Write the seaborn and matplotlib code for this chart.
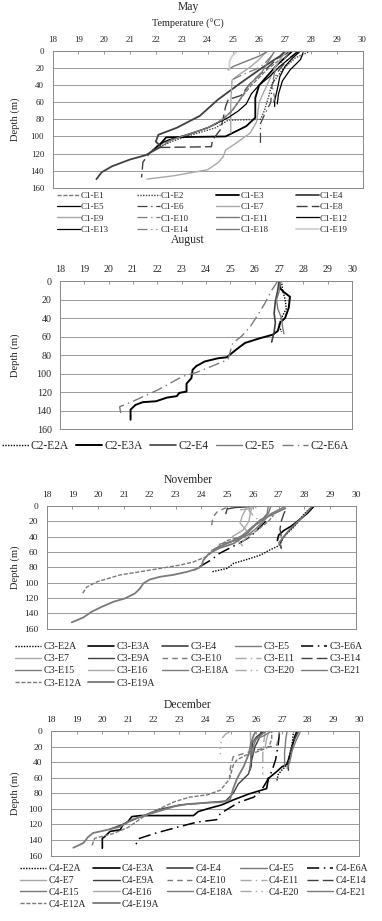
import matplotlib
matplotlib.use('Agg')
import matplotlib.pyplot as plt
import seaborn as sns

# valores: cada perfil = lista de (temperatura °C, profundidade m)
temp_ticks = list(range(18, 31))
depth_ticks = list(range(0, 161, 20))

# ---------------- May (C1) ----------------
c1_e1 = [(27.0, 0), (26.8, 10), (26.3, 22), (25.7, 40), (25.3, 55), (24.9, 72), (24.3, 86), (23.4, 97), (22.6, 104), (22.0, 112)]
c1_e2 = [(28.0, 0), (27.4, 8), (26.9, 22), (26.5, 38), (26.35, 55), (26.2, 70), (26.05, 80), (24.8, 81), (24.3, 90), (23.3, 99), (22.6, 106), (22.2, 112)]
c1_e3 = [(27.25, 1), (26.7, 16), (26.0, 40), (25.85, 55), (25.85, 78), (25.5, 88), (24.7, 100), (22.4, 101), (22.2, 108), (21.9, 116)]
c1_e4 = [(27.1, 2), (26.7, 8), (26.05, 21), (25.3, 37), (24.4, 57), (23.7, 76), (22.8, 90), (22.1, 98), (22.0, 106), (22.2, 112), (21.6, 122), (21.0, 127), (20.3, 135), (19.9, 142), (19.7, 150)]
c1_e5 = [(27.6, 0), (27.3, 8), (27.0, 18), (26.8, 30), (26.7, 45), (26.6, 58), (26.6, 65)]
c1_e6 = [(27.5, 0), (27.1, 10), (26.7, 25), (26.5, 40), (26.45, 60), (26.2, 75), (26.05, 85), (26.05, 112)]
c1_e7 = [(27.1, 0), (26.9, 6), (26.6, 20), (26.3, 40), (26.0, 60), (25.9, 83), (25.65, 96), (25.1, 108), (24.7, 116), (24.6, 124), (24.4, 131), (24.0, 139), (22.7, 146), (21.65, 150)]
c1_e8 = [(27.0, 0), (26.6, 12), (26.0, 28), (25.6, 40), (25.3, 52), (24.8, 57), (24.7, 65), (24.6, 80), (24.5, 92), (24.2, 104), (24.15, 112), (22.0, 113), (21.8, 118), (21.5, 130), (21.45, 148)]
c1_e9 = [(26.3, 0), (26.0, 10), (25.6, 20), (25.2, 28), (24.95, 34), (24.9, 60), (24.9, 96)]
c1_e10 = [(26.5, 5), (26.2, 15), (25.9, 21), (25.4, 27), (25.0, 33)]
c1_e11 = [(26.3, 1), (26.0, 6), (25.5, 12), (25.0, 18), (24.8, 22)]
c1_e12 = [(27.5, 1), (27.2, 8), (26.8, 18), (26.4, 30), (26.0, 40), (25.7, 50), (25.5, 62), (25.2, 70), (24.8, 78), (24.0, 90), (23.2, 98), (22.5, 104), (22.2, 108)]
c1_e13 = [(27.7, 2), (27.6, 10), (27.2, 22), (26.9, 35), (26.75, 50), (26.7, 62)]
c1_e14 = [(27.2, 0), (26.9, 12), (26.6, 25), (26.5, 40), (26.6, 55), (26.5, 65)]
c1_e18 = [(26.6, 0), (26.4, 10), (26.1, 25), (25.6, 40), (25.3, 55), (25.0, 68), (24.6, 80), (24.0, 90), (23.2, 98), (22.6, 104), (22.3, 110)]
c1_e19 = [(25.15, 0), (24.95, 6), (24.85, 12), (24.85, 22)]

may_names = ['C1-E1', 'C1-E2', 'C1-E3', 'C1-E4', 'C1-E5', 'C1-E6', 'C1-E7', 'C1-E8',
             'C1-E9', 'C1-E10', 'C1-E11', 'C1-E12', 'C1-E13', 'C1-E14', 'C1-E18', 'C1-E19']
may_profiles = [c1_e1, c1_e2, c1_e3, c1_e4, c1_e5, c1_e6, c1_e7, c1_e8,
                c1_e9, c1_e10, c1_e11, c1_e12, c1_e13, c1_e14, c1_e18, c1_e19]

# ---------------- August (C2) ----------------
c2_e2a = [(27.1, 0), (27.15, 10), (27.25, 20), (27.3, 30), (27.1, 40), (27.0, 48), (27.1, 55)]
c2_e3a = [(27.0, 0), (27.05, 8), (27.2, 12), (27.45, 17), (27.4, 29), (27.25, 40), (27.05, 45), (26.95, 54), (26.75, 58),
          (26.2, 62), (25.6, 67), (25.2, 75), (24.85, 82.5), (24.5, 83.5), (23.95, 87), (23.6, 92), (23.45, 96), (23.4, 105),
          (23.2, 111), (23.2, 119.5), (22.9, 121), (22.8, 124.5), (22.4, 126), (21.95, 130), (21.4, 131), (21.1, 134),
          (20.9, 139), (20.9, 150)]
c2_e4 = [(27.0, 0), (26.95, 10), (26.85, 22), (26.8, 35), (26.85, 45), (26.8, 55), (26.7, 66)]
c2_e5 = [(27.05, 0), (27.0, 12), (26.9, 20), (26.95, 30), (27.1, 40), (27.15, 50), (27.2, 57)]
c2_e6a = [(26.95, 0), (26.7, 10), (26.4, 25), (26.1, 38), (25.8, 50), (25.45, 60), (25.1, 67), (24.9, 85), (23.6, 99),
          (23.05, 103), (22.0, 118), (21.0, 130), (20.45, 136), (20.5, 143)]

aug_names = ['C2-E2A', 'C2-E3A', 'C2-E4', 'C2-E5', 'C2-E6A']
aug_profiles = [c2_e2a, c2_e3a, c2_e4, c2_e5, c2_e6a]

# ---------------- November (C3) ----------------
c3_e2a = [(28.3, 1), (28.15, 5), (27.95, 12), (27.6, 27), (27.2, 40), (27.0, 52), (26.65, 57.5), (26.3, 64), (25.75, 70), (25.25, 75), (25.0, 81.5), (24.4, 86)]
c3_e3a = [(28.35, 1), (28.1, 10), (27.8, 18), (27.5, 26), (27.2, 32), (27.0, 38), (26.95, 45)]
c3_e4 = [(28.3, 1), (28.0, 12), (27.7, 22), (27.4, 32), (27.15, 42), (27.05, 50), (27.1, 55)]
c3_e5 = [(28.25, 2), (28.05, 10), (27.75, 20), (27.45, 30), (27.2, 40), (27.0, 48), (27.1, 52)]
c3_e6a = [(26.5, 20), (26.2, 30), (25.9, 40), (25.5, 48), (25.1, 55), (24.7, 62), (24.4, 70), (24.0, 78), (23.6, 86)]
c3_e7 = [(26.0, 0), (25.9, 8), (25.85, 20), (25.6, 32), (25.2, 40), (25.5, 48), (25.6, 52)]
c3_e9a = [(24.95, 10), (25.0, 4), (25.3, 2), (25.9, 1)]
c3_e10 = [(24.4, 25), (24.45, 15), (24.6, 8), (24.9, 3), (25.2, 1)]
c3_e11 = [(25.5, 5), (25.8, 4), (26.1, 2), (26.4, 0)]
c3_e14 = [(27.1, 40), (27.05, 30), (27.1, 20), (27.2, 10), (27.3, 3)]
c3_e15 = [(26.6, 0), (26.55, 10), (26.3, 20), (25.95, 28), (25.6, 38), (25.2, 46), (24.8, 52), (24.4, 58)]
c3_e16 = [(25.8, 0), (25.6, 12), (25.5, 22), (25.7, 30), (25.9, 38), (25.6, 46)]
c3_e18a = [(26.7, 0), (26.6, 10), (26.4, 18), (26.1, 25), (25.8, 35), (25.3, 45), (24.9, 50), (24.5, 56)]
c3_e20 = [(25.9, 0), (25.85, 6), (26.0, 12), (26.2, 18), (26.3, 25)]
c3_e21 = [(27.3, 0), (27.0, 5), (26.7, 10), (26.4, 20), (26.1, 30), (25.8, 38), (25.3, 45), (24.7, 50)]
c3_e12a = [(19.4, 114), (19.55, 106), (19.95, 99), (20.35, 95), (20.85, 90), (21.6, 86), (22.4, 81.5), (23.2, 77), (23.7, 73),
           (24.2, 66), (24.5, 58), (24.7, 52), (25.0, 45), (25.5, 41), (26.0, 36), (26.3, 28), (26.6, 20), (26.8, 12)]
c3_e19a = [(18.97, 152), (19.42, 145.6), (19.75, 138), (20.14, 131.6), (20.6, 125), (21.04, 120.7), (21.43, 114), (21.62, 107.7),
           (21.75, 101), (22.0, 96), (22.4, 92.4), (22.9, 90), (23.44, 86), (23.8, 82.4), (24.0, 79), (24.08, 70.6), (24.3, 62),
           (24.7, 55), (25.25, 49), (25.64, 40), (26.0, 27), (26.3, 18), (26.7, 12), (27.0, 7), (27.26, 3)]

nov_names = ['C3-E2A', 'C3-E3A', 'C3-E4', 'C3-E5', 'C3-E6A', 'C3-E7', 'C3-E9A', 'C3-E10', 'C3-E11', 'C3-E14',
             'C3-E15', 'C3-E16', 'C3-E18A', 'C3-E20', 'C3-E21', 'C3-E12A', 'C3-E19A']
nov_profiles = [c3_e2a, c3_e3a, c3_e4, c3_e5, c3_e6a, c3_e7, c3_e9a, c3_e10, c3_e11, c3_e14,
                c3_e15, c3_e16, c3_e18a, c3_e20, c3_e21, c3_e12a, c3_e19a]

# ---------------- December (C4) ----------------
c4_e2a = [(27.45, 0), (27.4, 15), (27.3, 30), (27.25, 42), (27.0, 50), (26.85, 56), (26.8, 64)]
c4_e3a = [(27.57, 1), (27.5, 7), (27.38, 22), (27.25, 37), (27.18, 43), (27.0, 46), (26.8, 52), (26.47, 61), (26.4, 74), (25.7, 81),
          (25.1, 88.6), (24.65, 95), (24.2, 99), (23.74, 103.5), (23.55, 108.7), (21.5, 108.7), (21.15, 110), (21.0, 116.4),
          (20.8, 120.6), (20.7, 127), (20.3, 129), (20.1, 135.6), (20.0, 138), (20.0, 150.6)]
c4_e4 = [(26.3, 0), (26.0, 8), (25.85, 15), (25.8, 28), (25.8, 45), (25.75, 50)]
c4_e5 = [(27.2, 0), (27.15, 10), (27.1, 28), (27.1, 45)]
c4_e6a = [(26.9, 3), (26.85, 18), (26.75, 37), (26.6, 52), (26.4, 65), (26.2, 76), (25.9, 85), (25.3, 92), (24.85, 101),
          (24.6, 106), (24.45, 114), (23.7, 117), (23.0, 123), (22.1, 131), (21.45, 138), (21.3, 146)]
c4_e7 = [(25.75, 0), (25.75, 8), (25.75, 18)]
c4_e9a = [(26.2, 0), (26.1, 10), (25.95, 20), (25.8, 40), (25.7, 55), (25.3, 68), (25.1, 80), (24.8, 90), (23.8, 93), (23.0, 95),
          (22.2, 101), (21.5, 110), (20.8, 120), (20.3, 126)]
c4_e10 = [(26.9, 0), (26.85, 10), (26.8, 18), (26.2, 23), (25.6, 28), (25.1, 33), (25.0, 45), (24.95, 60)]
c4_e11 = [(26.35, 0), (26.3, 12), (26.25, 30), (26.25, 56)]
c4_e14 = [(27.65, 0), (27.5, 10), (27.35, 25), (27.25, 40), (27.25, 55)]
c4_e15 = [(27.7, 2), (27.55, 12), (27.4, 25), (27.3, 40), (27.2, 48)]
c4_e16 = [(26.5, 0), (26.4, 10), (26.35, 20)]
c4_e18a = [(26.6, 0), (26.3, 6), (26.0, 10), (25.9, 18), (25.85, 30)]
c4_e20 = [(25.0, 0), (24.8, 4), (24.65, 10), (24.6, 20), (24.6, 30)]
c4_e21 = [(26.4, 0), (26.2, 5), (25.8, 15), (25.8, 30), (25.75, 50)]
c4_e12a = [(19.6, 147), (19.7, 138), (20.4, 132), (21.0, 124), (21.7, 108), (22.8, 91), (23.4, 85), (24.1, 82), (24.6, 76),
           (24.95, 62), (25.1, 44), (25.25, 37), (25.6, 31), (26.1, 26), (26.5, 20), (26.6, 10), (26.6, 0)]
c4_e19a = [(18.87, 150), (19.26, 144), (19.45, 136), (19.65, 131), (20.2, 127), (20.7, 123), (21.15, 114), (21.9, 106), (22.8, 97),
           (23.3, 94), (24.1, 92), (24.65, 91.5), (24.97, 88.6), (25.1, 74), (25.25, 61), (25.5, 46), (25.7, 30), (25.8, 15),
           (25.9, 5), (26.0, 0)]

dec_names = ['C4-E2A', 'C4-E3A', 'C4-E4', 'C4-E5', 'C4-E6A', 'C4-E7', 'C4-E9A', 'C4-E10', 'C4-E11', 'C4-E14',
             'C4-E15', 'C4-E16', 'C4-E18A', 'C4-E20', 'C4-E21', 'C4-E12A', 'C4-E19A']
dec_profiles = [c4_e2a, c4_e3a, c4_e4, c4_e5, c4_e6a, c4_e7, c4_e9a, c4_e10, c4_e11, c4_e14,
                c4_e15, c4_e16, c4_e18a, c4_e20, c4_e21, c4_e12a, c4_e19a]

# ---------------- estilos (cor, traço, espessura) ----------------
BLK, DK, MD, LT, VL = '#000000', '#404040', '#7a7a7a', '#a8a8a8', '#cfcfcf'
SOLID = '-'
DOT = (0, (1, 1))
SDASH = (0, (3, 1.2))
DASH = (0, (4, 3))
LDASH = (0, (8, 3))
LDDOT = (0, (8, 3, 1, 3))
LDDDOT = (0, (8, 3, 1, 3, 1, 3))

may_styles = [(MD, SDASH, 1.0), (DK, DOT, 1.0), (BLK, SOLID, 1.3), (DK, SOLID, 1.3),
              (BLK, SOLID, 0.9), (DK, LDDOT, 0.9), (LT, SOLID, 1.0), (DK, LDASH, 1.0),
              (LT, SOLID, 1.0), (MD, LDDOT, 0.9), (MD, SOLID, 1.0), (BLK, SOLID, 0.9),
              (BLK, SOLID, 0.9), (MD, LDDDOT, 0.9), (MD, SOLID, 1.0), (VL, SOLID, 1.3)]
aug_styles = [(BLK, DOT, 1.0), (BLK, SOLID, 1.4), (DK, SOLID, 1.2), (MD, SOLID, 1.0), (MD, LDDOT, 1.0)]
sub_styles = [(BLK, DOT, 1.0), (BLK, SOLID, 1.2), (DK, SOLID, 1.2), (MD, SOLID, 1.0), (BLK, LDDOT, 1.1),
              (LT, SOLID, 1.0), (DK, SOLID, 1.0), (MD, DASH, 1.0), (LT, LDDOT, 1.0), (DK, LDASH, 1.0),
              (MD, SOLID, 1.0), (LT, SOLID, 1.0), (MD, SOLID, 1.0), (LT, LDDDOT, 1.0), (MD, SOLID, 1.0),
              (MD, SDASH, 1.0), (MD, SOLID, 1.3)]

sns.set_style('white')
plt.rcParams['font.family'] = ['Liberation Serif', 'DejaVu Serif']

W, H = 382, 921
fig = plt.figure(figsize=(W / 100, H / 100), dpi=100)


def px_axes(left, right, top, bottom):
    return fig.add_axes([left / W, 1 - bottom / H, (right - left) / W, (bottom - top) / H])


def painel(rect, titulo, title_y, nomes, perfis, estilos, ncol, leg_xy, tick_fs, leg_fs, leg_kw):
    ax = px_axes(*rect)
    linhas = []
    for nome, perfil, (cor, ls, lw) in zip(nomes, perfis, estilos):
        sns.lineplot(x=[p[0] for p in perfil], y=[p[1] for p in perfil], ax=ax, sort=False,
                     estimator=None, color=cor, linestyle=ls, linewidth=lw)
        linhas.append(ax.get_lines()[-1])
    ax.set_xlim(18, 30)
    ax.set_ylim(160, 0)
    ax.set_xticks(temp_ticks)
    ax.set_yticks(depth_ticks)
    ax.xaxis.tick_top()
    ax.tick_params(axis='x', direction='in', length=2.5, width=0.6, color='#888888', pad=5, labelsize=tick_fs)
    ax.tick_params(axis='y', length=0, pad=6, labelsize=tick_fs)
    ax.yaxis.grid(True, color='#9a9a9a', lw=0.7)
    ax.set_axisbelow(True)
    for s in ax.spines.values():
        s.set_color('#8a8a8a')
        s.set_linewidth(0.7)
    ax.set_xlabel('')
    ax.set_ylabel('Depth (m)', fontsize=7.6)
    ax.yaxis.set_label_coords((20 - rect[0]) / (rect[1] - rect[0]), 0.5)
    fig.text(188 / W, 1 - title_y / H, titulo, ha='center', va='center', fontsize=8.4)
    # legenda preenchida por linha, como no original
    n = len(nomes)
    ordem = [i for j in range(ncol) for i in range(j, n, ncol)]
    ax.legend([linhas[i] for i in ordem], [nomes[i] for i in ordem], ncol=ncol, loc='upper left',
              bbox_to_anchor=(leg_xy[0] / W, 1 - leg_xy[1] / H), bbox_transform=fig.transFigure,
              frameon=False, fontsize=leg_fs, borderpad=0, borderaxespad=0, **leg_kw)
    return ax


painel((52.5, 362.5, 51, 187.7), 'May', 7.3, may_names, may_profiles, may_styles, 4, (57, 191.5),
       6.4, 6.5, dict(handlelength=2.55, handletextpad=0.12, columnspacing=3.05, labelspacing=0.34))
fig.text(188 / W, 1 - 24 / H, 'Temperature (°C)', ha='center', va='center', fontsize=7.4)

painel((60, 352, 281, 429), 'August', 240, aug_names, aug_profiles, aug_styles, 5, (2, 440),
       7.2, 8.3, dict(handlelength=2.3, handletextpad=0.2, columnspacing=0.6))

painel((46.7, 356, 506, 628.5), 'November', 480, nov_names, nov_profiles, sub_styles, 5, (15, 642),
       6.8, 7.2, dict(handlelength=2.6, handletextpad=0.25, columnspacing=0.65, labelspacing=0.32))

painel((51, 359, 731, 855.5), 'December', 705, dec_names, dec_profiles, sub_styles, 5, (20, 864),
       6.8, 7.0, dict(handlelength=2.7, handletextpad=0.25, columnspacing=0.75, labelspacing=0.3))

fig.savefig('out.png', dpi=100)
